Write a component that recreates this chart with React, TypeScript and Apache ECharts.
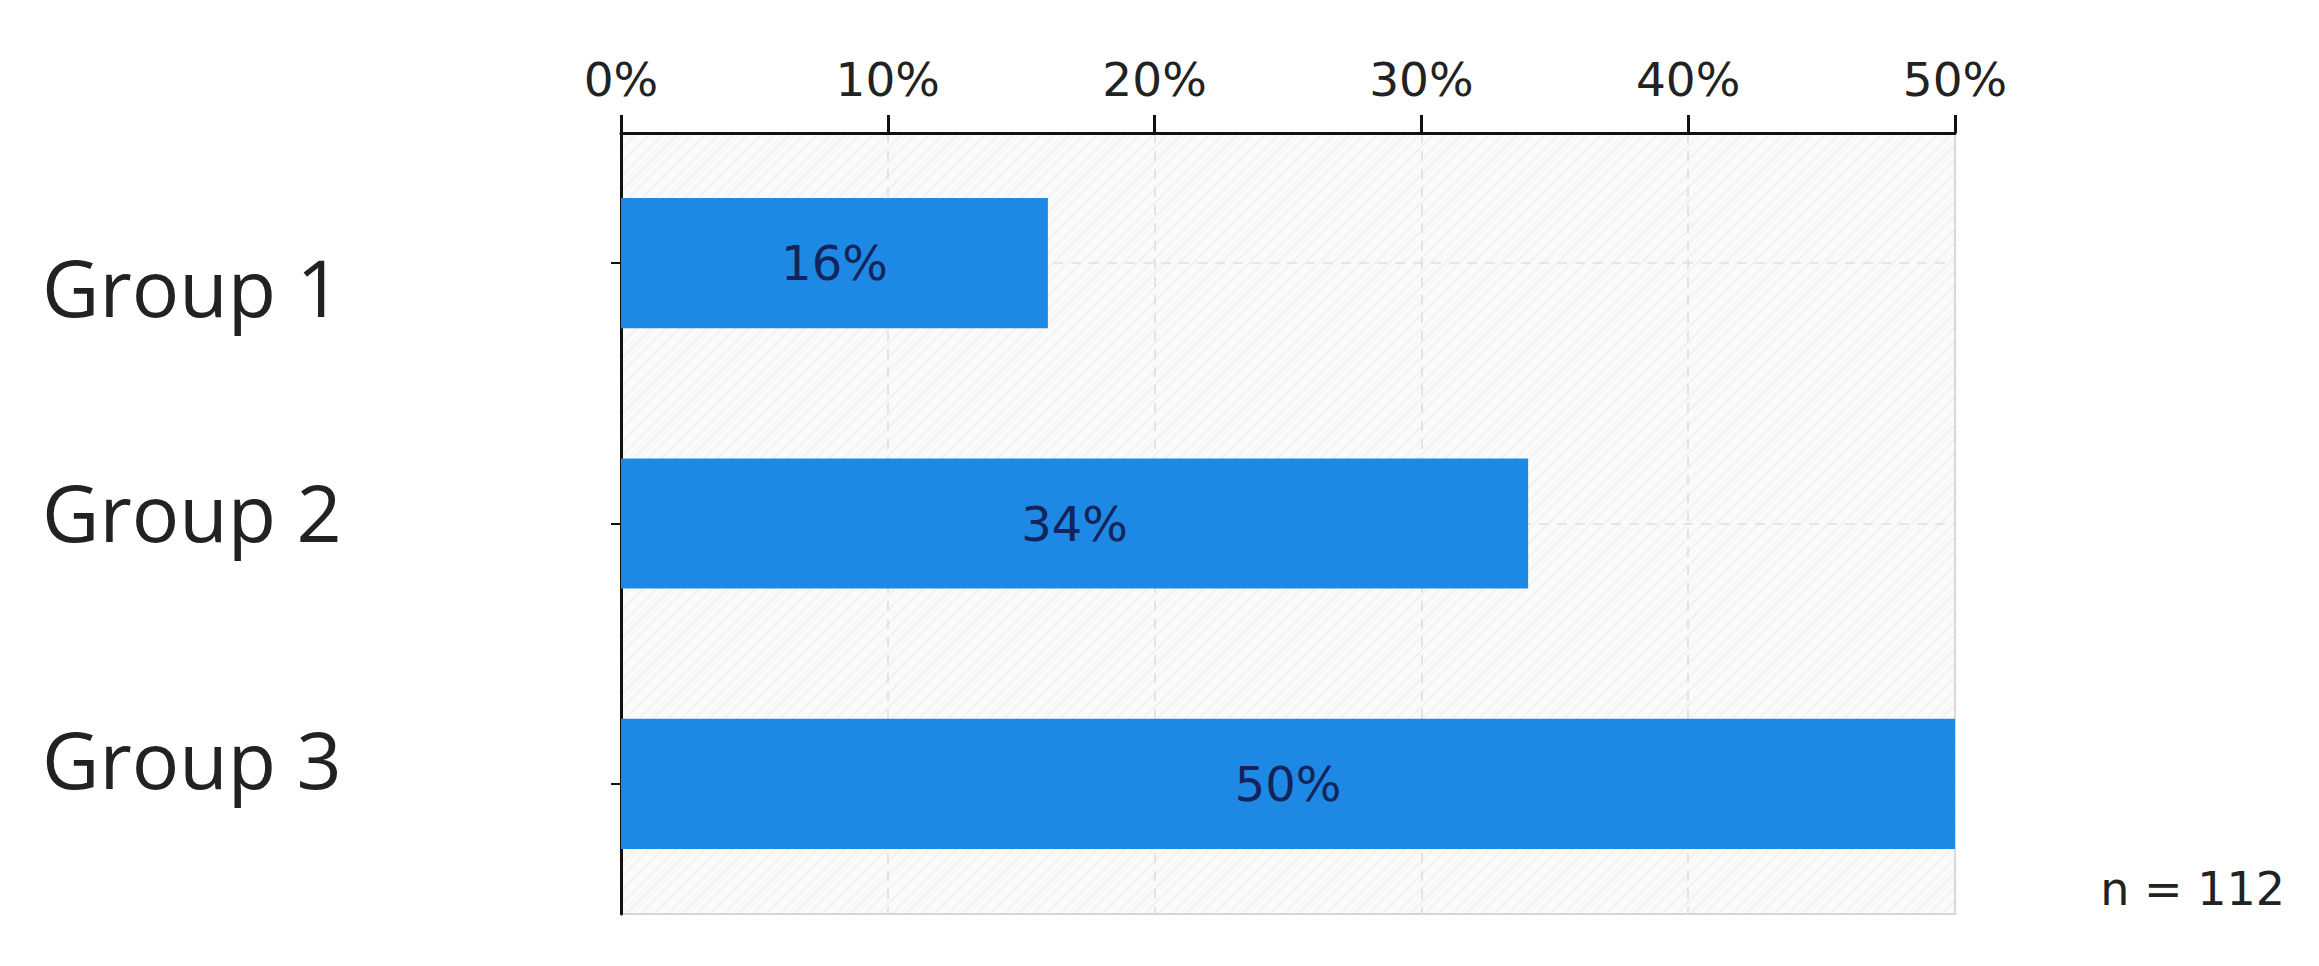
import React, { useEffect, useRef } from "react";
import * as echarts from "echarts";

const categories = ["Group 1", "Group 2", "Group 3"];
const values = [16, 34, 50];
const xMin = 0;
const xMax = 50;
const xInterval = 10;
const sampleNote = "n = 112";
// small vertical offsets of the category labels relative to their ticks (px)
const labelShifts = [23, -12, -25];

export default function App() {
  const ref = useRef<HTMLDivElement>(null);

  useEffect(() => {
    const chart = echarts.init(ref.current!, null, { renderer: "svg" });

    const cv = document.createElement("canvas");
    cv.width = 14;
    cv.height = 14;
    const ctx = cv.getContext("2d")!;
    ctx.fillStyle = "#fafafa";
    ctx.fillRect(0, 0, 14, 14);
    ctx.strokeStyle = "#efefef";
    ctx.lineWidth = 1.5;
    ctx.beginPath();
    ctx.moveTo(-2, 16);
    ctx.lineTo(16, -2);
    ctx.moveTo(-2, 2);
    ctx.lineTo(2, -2);
    ctx.moveTo(12, 16);
    ctx.lineTo(16, 12);
    ctx.stroke();

    const rich: Record<string, any> = {
      g: { fontSize: 79, fontFamily: "Open Sans", color: "#222", lineHeight: 92 },
    };
    labelShifts.forEach((s, i) => {
      rich["s" + i] = { fontSize: 4, lineHeight: Math.abs(s) * 2 };
    });

    chart.setOption({
      animation: false,
      grid: {
        left: 621,
        right: 364,
        top: 133,
        bottom: 52,
        show: true,
        backgroundColor: { image: cv, repeat: "repeat" },
        borderColor: "#d6d6d6",
        borderWidth: 2,
        containLabel: false,
      },
      xAxis: {
        type: "value",
        position: "top",
        min: xMin,
        max: xMax,
        interval: xInterval,
        axisLine: { show: true, lineStyle: { color: "#111", width: 3 } },
        axisTick: { show: true, length: 18, lineStyle: { color: "#111", width: 3 } },
        axisLabel: {
          formatter: "{value}%",
          fontSize: 47,
          fontFamily: "DejaVu Sans",
          color: "#222",
          margin: 30,
        },
        splitLine: { show: true, lineStyle: { color: "#dcdcdc", width: 1.5, type: [10, 8] } },
      },
      yAxis: {
        type: "category",
        inverse: true,
        data: categories,
        axisLine: { show: true, lineStyle: { color: "#111", width: 3 } },
        axisTick: { show: true, alignWithLabel: true, length: 10, lineStyle: { color: "#111", width: 2 } },
        axisLabel: {
          align: "left",
          margin: 579,
          formatter: (v: string, i: number) => {
            const s = labelShifts[i] || 0;
            if (s > 0) return `{s${i}| }\n{g|${v}}`;
            if (s < 0) return `{g|${v}}\n{s${i}| }`;
            return `{g|${v}}`;
          },
          rich,
        },
        splitLine: { show: false },
      },
      graphic: [
        {
          type: "text",
          right: 34,
          top: 866,
          style: {
            text: sampleNote,
            fontSize: 46,
            fontFamily: "DejaVu Sans",
            fill: "#222",
          },
        },
      ],
      series: [
        {
          type: "scatter",
          data: [],
          z: 1,
          silent: true,
          markLine: {
            silent: true,
            z: 1,
            symbol: ["none", "none"],
            label: { show: false },
            lineStyle: { color: "#e0e0e0", width: 1.5, type: [10, 8] },
            data: categories.map((c) => ({ yAxis: c })),
          },
        },
        {
          type: "bar",
          data: values,
          barWidth: "50%",
          z: 3,
          itemStyle: { color: "#1E88E5" },
          label: {
            show: true,
            position: "inside",
            formatter: "{c}%",
            fontSize: 48,
            fontFamily: "DejaVu Sans",
            color: "#12245a",
          },
        },
      ],
    });

    return () => chart.dispose();
  }, []);

  return (
    <div
      ref={ref}
      style={{ position: "fixed", left: 0, top: 0, width: 2319, height: 966, background: "#fff" }}
    />
  );
}
